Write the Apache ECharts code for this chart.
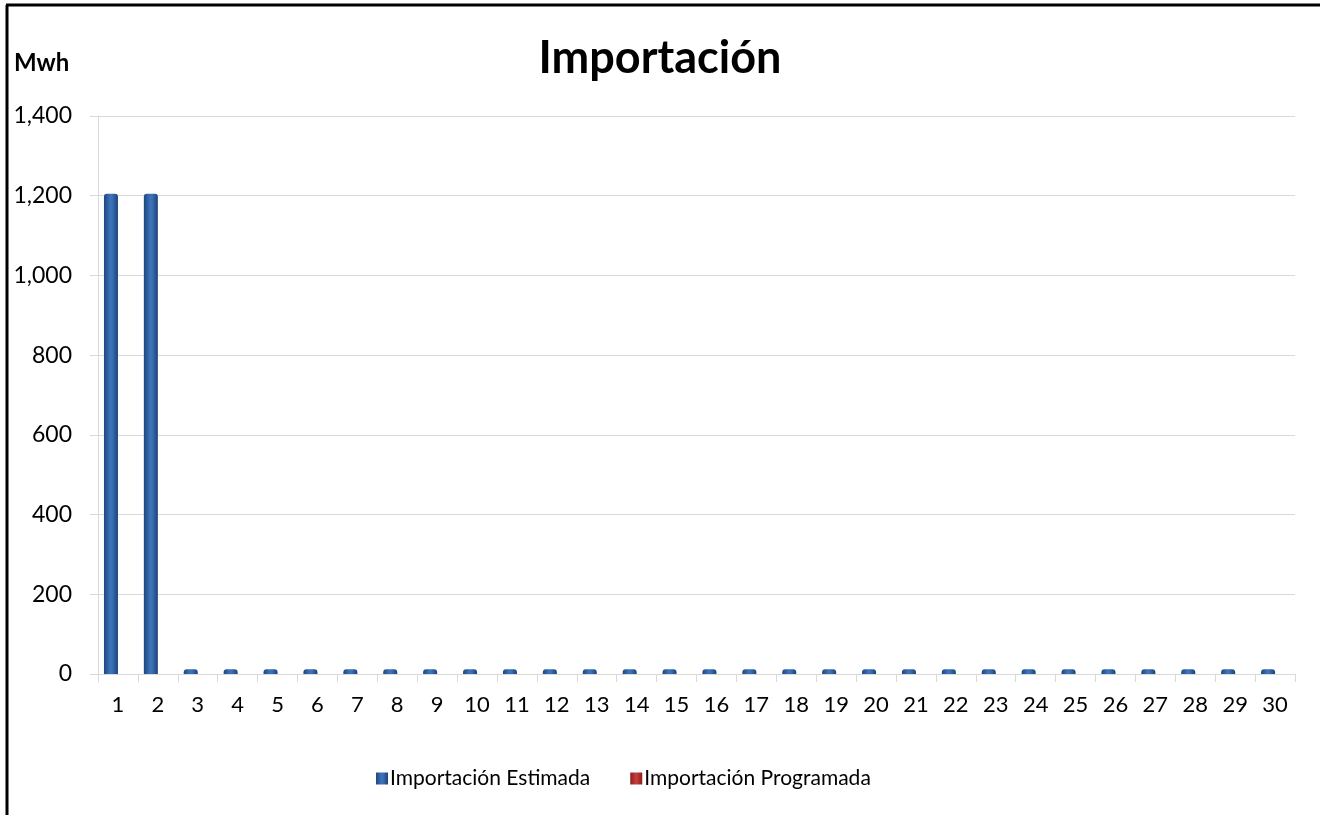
<!DOCTYPE html>
<html>
<head>
<meta charset="utf-8">
<script src="https://cdn.jsdelivr.net/npm/echarts@6/dist/echarts.min.js"></script>
<style>
html,body{margin:0;padding:0;background:#fff;}
#c{width:1320px;height:815px;}
</style>
</head>
<body>
<div id="c"></div>
<script>
const days = ['1','2','3','4','5','6','7','8','9','10','11','12','13','14','15','16','17','18','19','20','21','22','23','24','25','26','27','28','29','30'];
const estimada = [1205,1205,12,12,12,12,12,12,12,12,12,12,12,12,12,12,12,12,12,12,12,12,12,12,12,12,12,12,12,12];
const programada = [0,0,0,0,0,0,0,0,0,0,0,0,0,0,0,0,0,0,0,0,0,0,0,0,0,0,0,0,0,0];
const yTicks = [0,200,400,600,800,1000,1200,1400];

const FONT = 'Lato, "Open Sans", sans-serif';
const chart = echarts.init(document.getElementById('c'), null, {renderer:'canvas'});

const blueGrad = new echarts.graphic.LinearGradient(0,0,1,0,[
  {offset:0,color:'#1d477f'},
  {offset:0.45,color:'#3d73b8'},
  {offset:0.6,color:'#3a6fb3'},
  {offset:1,color:'#1b4279'}
]);
const redGrad = new echarts.graphic.LinearGradient(0,0,1,0,[
  {offset:0,color:'#8c1e1e'},
  {offset:0.5,color:'#c84040'},
  {offset:1,color:'#8c1e1e'}
]);

chart.setOption({
  animation:false,
  backgroundColor:'#ffffff',
  title:{
    text:'Importación',
    left:'center',
    top:31,
    textStyle:{fontFamily:FONT,fontWeight:'bold',fontSize:45,color:'#000'}
  },
  graphic:[
    {type:'line',shape:{x1:7,y1:5,x2:7,y2:815},style:{stroke:'#000',lineWidth:3}},
    {type:'line',shape:{x1:6,y1:5,x2:1320,y2:5},style:{stroke:'#000',lineWidth:3}},
    {type:'text',left:14,top:51,style:{text:'Mwh',font:'bold 24px '+FONT,fill:'#000'}}
  ],
  legend:{
    left:371,
    top:763,
    itemWidth:12,
    itemHeight:12,
    itemGap:40,
    icon:'rect',
    textStyle:{fontFamily:FONT,fontSize:21,color:'#000',padding:[0,0,0,-3]},
    data:['Importación Estimada','Importación Programada']
  },
  grid:{left:98,right:25,top:116,bottom:141,containLabel:false},
  xAxis:{
    type:'category',
    data:days,
    axisLine:{lineStyle:{color:'#d9d9d9',width:1}},
    axisTick:{show:true,length:8,lineStyle:{color:'#d9d9d9'}},
    axisLabel:{fontFamily:FONT,fontSize:22,color:'#000',margin:20}
  },
  yAxis:{
    type:'value',
    min:0,max:1400,interval:200,
    axisLine:{show:true,lineStyle:{color:'#d9d9d9'}},
    axisTick:{show:true,length:8,lineStyle:{color:'#d9d9d9'}},
    splitLine:{lineStyle:{color:'#d9d9d9'}},
    axisLabel:{fontFamily:FONT,fontSize:23,color:'#000',margin:26,
      formatter:v=>v.toLocaleString('en-US')}
  },
  series:[
    {name:'Importación Estimada',type:'bar',data:estimada,barWidth:14,barGap:'0%',
      itemStyle:{color:blueGrad,borderRadius:[3,3,0,0]}},
    {name:'Importación Programada',type:'bar',data:programada,barWidth:14,
      itemStyle:{color:redGrad}}
  ]
});
</script>
</body>
</html>
